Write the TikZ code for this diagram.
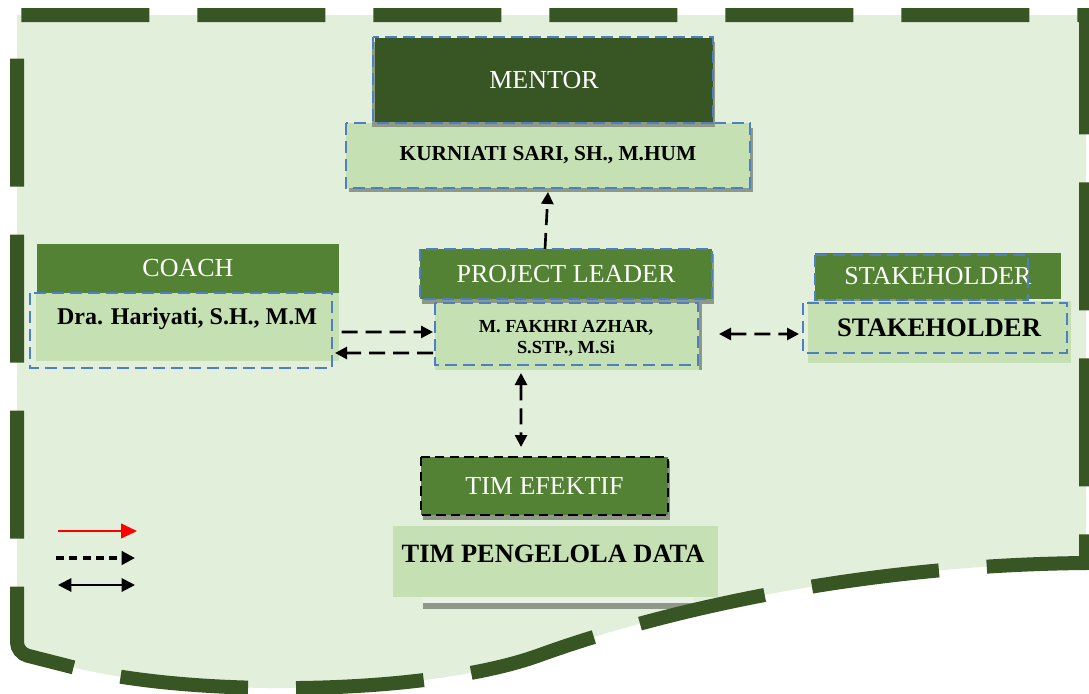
\documentclass[tikz,border=0pt]{standalone}
\usepackage{fontspec}
\setmainfont{Liberation Serif}
\usetikzlibrary{arrows.meta}

\definecolor{bgpale}{HTML}{E2EFDA}
\definecolor{darkgreen}{HTML}{375623}
\definecolor{midgreen}{HTML}{548235}
\definecolor{palegreen}{HTML}{C5E0B3}
\definecolor{edgeblue}{HTML}{4F7FC0}
\definecolor{shade}{HTML}{8D9888}
\definecolor{paler}{HTML}{EAF1E6}

\tikzset{blk/.tip={Triangle[length=9pt,width=9pt]}}

\begin{document}
\begin{tikzpicture}[x=0.75pt,y=-0.75pt,
  sz/.style 2 args={minimum width=#1*0.75pt, minimum height=#2*0.75pt},
  box/.style={rectangle, inner sep=0pt, outer sep=0pt, draw=none},
  hdr/.style={box, fill=midgreen, text=white, font=\fontsize{19.5}{22}\selectfont},
  hdrdark/.style={box, fill=darkgreen, text=white, font=\fontsize{19.5}{22}\selectfont},
  body/.style={box, fill=palegreen, text=black},
  lbl/.style={inner sep=0pt, text=black},
  blueedge/.style={draw=edgeblue, line width=1.5pt, dash pattern=on 9pt off 4.5pt},
  blackedge/.style={draw=black, line width=1.5pt, dash pattern=on 7pt off 4pt},
  shadow/.style={fill=shade},
  conn/.style={draw=black, line width=2pt, dash pattern=on 12pt off 6pt},
  frame/.style={draw=darkgreen, line width=10.5pt, dash pattern=on 96pt off 36pt, dash phase=94pt}
]
\useasboundingbox (0,0) rectangle (1089,693);
\fill[white] (0,0) rectangle (1089,693);

% pale panel with its wavy lower edge
\fill[bgpale] (17,600) -- (17,15) -- (1086,15) -- (1086,563)
  .. controls (850,565) and (650,615) .. (540,655)
  .. controls (430,695) and (200,698) .. (76,668)
  [rounded corners=8] -- (17,653) -- cycle;

% ---- mentor ----
\fill[shadow] (349,128) rectangle (753,192);
\node[body, sz={404}{65}, font=\fontsize{16}{19}\selectfont\bfseries] (kurniati) at (548,155.5) {KURNIATI SARI, SH., M.HUM};
\draw[blueedge] (346,123) rectangle (750,188);
\fill[shadow] (372,42) rectangle (715,127);
\node[hdrdark, sz={338}{84}] (mentor) at (544,80) {MENTOR};
\draw[blueedge] (373,37) rectangle (713,123);

% ---- coach ----
\node[hdr, sz={302}{49}] (coach) at (188,268.5) {COACH};
\node[body, sz={303}{68}] (coachbody) at (187.5,327) {};
\node[lbl, font=\fontsize{18}{21}\selectfont\bfseries] (coachname) at (187,319) {Dra. Hariyati, S.H., M.M};
\draw[blueedge] (30,293) rectangle (332,368);

% ---- project leader ----
\fill[shadow] (422,254) rectangle (714,304);
\node[hdr, sz={292}{50}] (plhead) at (566,274) {PROJECT LEADER};
\draw[blueedge] (420,249) rectangle (712,299);
\fill[shadow] (437,300) rectangle (702,370);
\node[body, sz={264}{67}] (plbody) at (567,336.5) {};
\node[lbl, align=center, font=\fontsize{13.8}{15.8}\selectfont\bfseries] (plname) at (566,338) {M. FAKHRI AZHAR,\\S.STP., M.Si};
\draw[blueedge] (435,303) rectangle (698,365);

% ---- stakeholder ----
\fill[shadow] (815,299) rectangle (1028,303);
\node[hdr, sz={246}{46}] (stakehead) at (938,276) {STAKEHOLDER};
\draw[blueedge] (815,255) rectangle (1028,300);
\node[body, sz={263}{62}] (stakebody) at (939.5,332) {};
\node[lbl, font=\fontsize{20}{24}\selectfont\bfseries] (stakename) at (939,328) {STAKEHOLDER};
\draw[blueedge] (803,303) rectangle (1067,353);

% ---- team ----
\fill[shadow] (423,461) rectangle (670,520);
\node[hdr, sz={247}{58}] (timef) at (544.5,486) {TIM EFEKTIF};
\draw[blackedge] (421,457) rectangle (668,515);
\fill[paler] (423,585) rectangle (693,604);
\fill[shadow] (423,603) rectangle (693,609);
\node[body, sz={325}{71}] (pengelola) at (555.5,561.5) {};
\node[lbl, font=\fontsize{19.8}{24}\selectfont\bfseries] (pengelolaname) at (553,554) {TIM PENGELOLA DATA};

% ---- connectors ----
\draw[conn, -{blk}] ([xshift=-15.75pt]plhead.north) -- ([yshift=-3pt]kurniati.south);
\draw[conn, -{blk}, shorten <=2pt, shorten >=1.5pt] ([yshift=-3.75pt]coachbody.east) -- ([yshift=3.4pt]plbody.west);
\draw[conn, -{blk}, shorten <=1.5pt, shorten >=-3pt] ([yshift=-12.4pt]plbody.west) -- ([yshift=-19.5pt]coachbody.east);
\draw[conn, {blk}-{blk}, shorten <=15pt, shorten >=6.75pt] ([yshift=1.9pt]plbody.east) -- ([yshift=-1.5pt]stakebody.west);
\draw[conn, {blk}-{blk}, shorten <=2.25pt, shorten >=7.5pt] ([xshift=-34.5pt]plbody.south) -- ([xshift=-17.6pt]timef.north);

% ---- legend ----
\coordinate (redA) at (58,531);
\coordinate (redB) at (137,531);
\coordinate (dashA) at (56,558);
\coordinate (dashB) at (135,558);
\coordinate (bothA) at (58,585);
\coordinate (bothB) at (135,585);
\draw[red, line width=1.5pt, -{Triangle[length=12pt,width=11pt]}] (redA) -- (redB);
\draw[black, line width=2.4pt, dash pattern=on 6pt off 4pt, -{Triangle[length=10pt,width=10pt]}] (dashA) -- (dashB);
\draw[black, line width=1.5pt, {Triangle[length=10pt,width=10pt]}-{Triangle[length=10pt,width=10pt]}] (bothA) -- (bothB);

% dashed frame round the panel
\draw[frame] (17,600) -- (17,15) -- (1086,15) -- (1086,563)
  .. controls (850,565) and (650,615) .. (540,655)
  .. controls (430,695) and (200,698) .. (76,668)
  [rounded corners=8] -- (17,653) -- cycle;
\end{tikzpicture}
\end{document}
